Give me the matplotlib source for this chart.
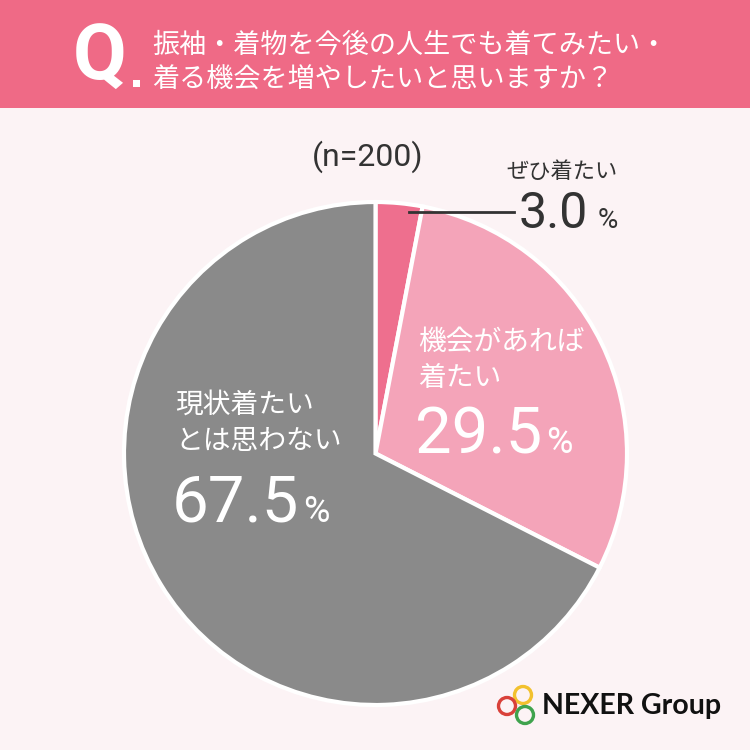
import matplotlib
matplotlib.use("Agg")
import matplotlib.pyplot as plt
from matplotlib.patches import Rectangle, Circle

plt.rcParams['font.family'] = ['Noto Sans CJK JP', 'DejaVu Sans']

labels = ["ぜひ着たい", "機会があれば\n着たい", "現状着たい\nとは思わない"]
values = [3.0, 29.5, 67.5]
colors = ["#EE6F8E", "#F4A4B9", "#8A8A8A"]
title_lines = ["振袖・着物を今後の人生でも着てみたい・", "着る機会を増やしたいと思いますか？"]
n_label = "(n=200)"

W = 750.0
def fx(x):
    return x / W
def fy(y):
    return 1 - y / W

fig = plt.figure(figsize=(7.5, 7.5), dpi=100)
fig.patch.set_facecolor("#FCF3F5")

# header band
fig.patches.append(Rectangle((0, fy(108)), 1, 108/W, transform=fig.transFigure,
                             facecolor="#EF6A86", edgecolor="none", zorder=0))
fig.text(fx(73), fy(80), "Q", fontsize=56, color="white", fontweight="bold",
         family=["Roboto", "DejaVu Sans"], va="baseline", ha="left")
fig.patches.append(Rectangle((fx(133), fy(87)), 7/W, 7/W, transform=fig.transFigure,
                             facecolor="white", edgecolor="none"))
fig.text(fx(152), fy(45), title_lines[0], fontsize=19.5, color="white", va="center", ha="left")
fig.text(fx(152), fy(80), title_lines[1], fontsize=19.5, color="white", va="center", ha="left")

ax = fig.add_axes([fx(124), fy(705), 503/W, 503/W])
ax.pie(values, colors=colors, startangle=90, counterclock=False,
       wedgeprops=dict(edgecolor="white", linewidth=3))
ax.set_xlim(-1, 1)
ax.set_ylim(-1, 1)
ax.set_aspect("equal")
ax.axis("off")

numfam = ["Roboto", "DejaVu Sans"]
fig.text(fx(312), fy(166), n_label, fontsize=23, color="#333333", family=numfam,
         ha="left", va="baseline")

# small slice label
fig.text(fx(562), fy(172), labels[0], fontsize=16, color="#333333", ha="center", va="center")
fig.lines.append(plt.Line2D([fx(409), fx(514)], [fy(212), fy(212)],
                            transform=fig.transFigure, color="#333333", linewidth=2))
fig.text(fx(519), fy(228), f"{values[0]:.1f}", fontsize=36, color="#333333",
         family=numfam, ha="left", va="baseline")
fig.text(fx(598), fy(228), "%", fontsize=20, color="#333333",
         family=numfam, ha="left", va="baseline")

# 29.5 label
fig.text(fx(418), fy(360), labels[1], fontsize=20, color="white", ha="left", va="center",
         linespacing=1.25)
fig.text(fx(415), fy(453), f"{values[1]:.1f}", fontsize=47, color="white",
         family=numfam, ha="left", va="baseline")
fig.text(fx(546), fy(453), "%", fontsize=26, color="white",
         family=numfam, ha="left", va="baseline")

# 67.5 label
fig.text(fx(175), fy(423), labels[2], fontsize=20, color="white", ha="left", va="center",
         linespacing=1.25)
fig.text(fx(172), fy(522), f"{values[2]:.1f}", fontsize=47, color="white",
         family=numfam, ha="left", va="baseline")
fig.text(fx(303), fy(522), "%", fontsize=26, color="white",
         family=numfam, ha="left", va="baseline")

# logo
for (cx, cy, c) in [(523, 695, "#F2C12E"), (507, 706, "#D9413A"), (525, 715, "#3FA34D")]:
    fig.patches.append(Circle((fx(cx), fy(cy)), 8.5/W, transform=fig.transFigure,
                              facecolor="none", edgecolor=c, linewidth=2.4))
fig.text(fx(542), fy(706), "NEXER Group", fontsize=20.5, fontweight="bold", color="#111111",
         family=["Lato", "DejaVu Sans"], ha="left", va="center")

fig.savefig("out.png", dpi=100, facecolor=fig.get_facecolor())
